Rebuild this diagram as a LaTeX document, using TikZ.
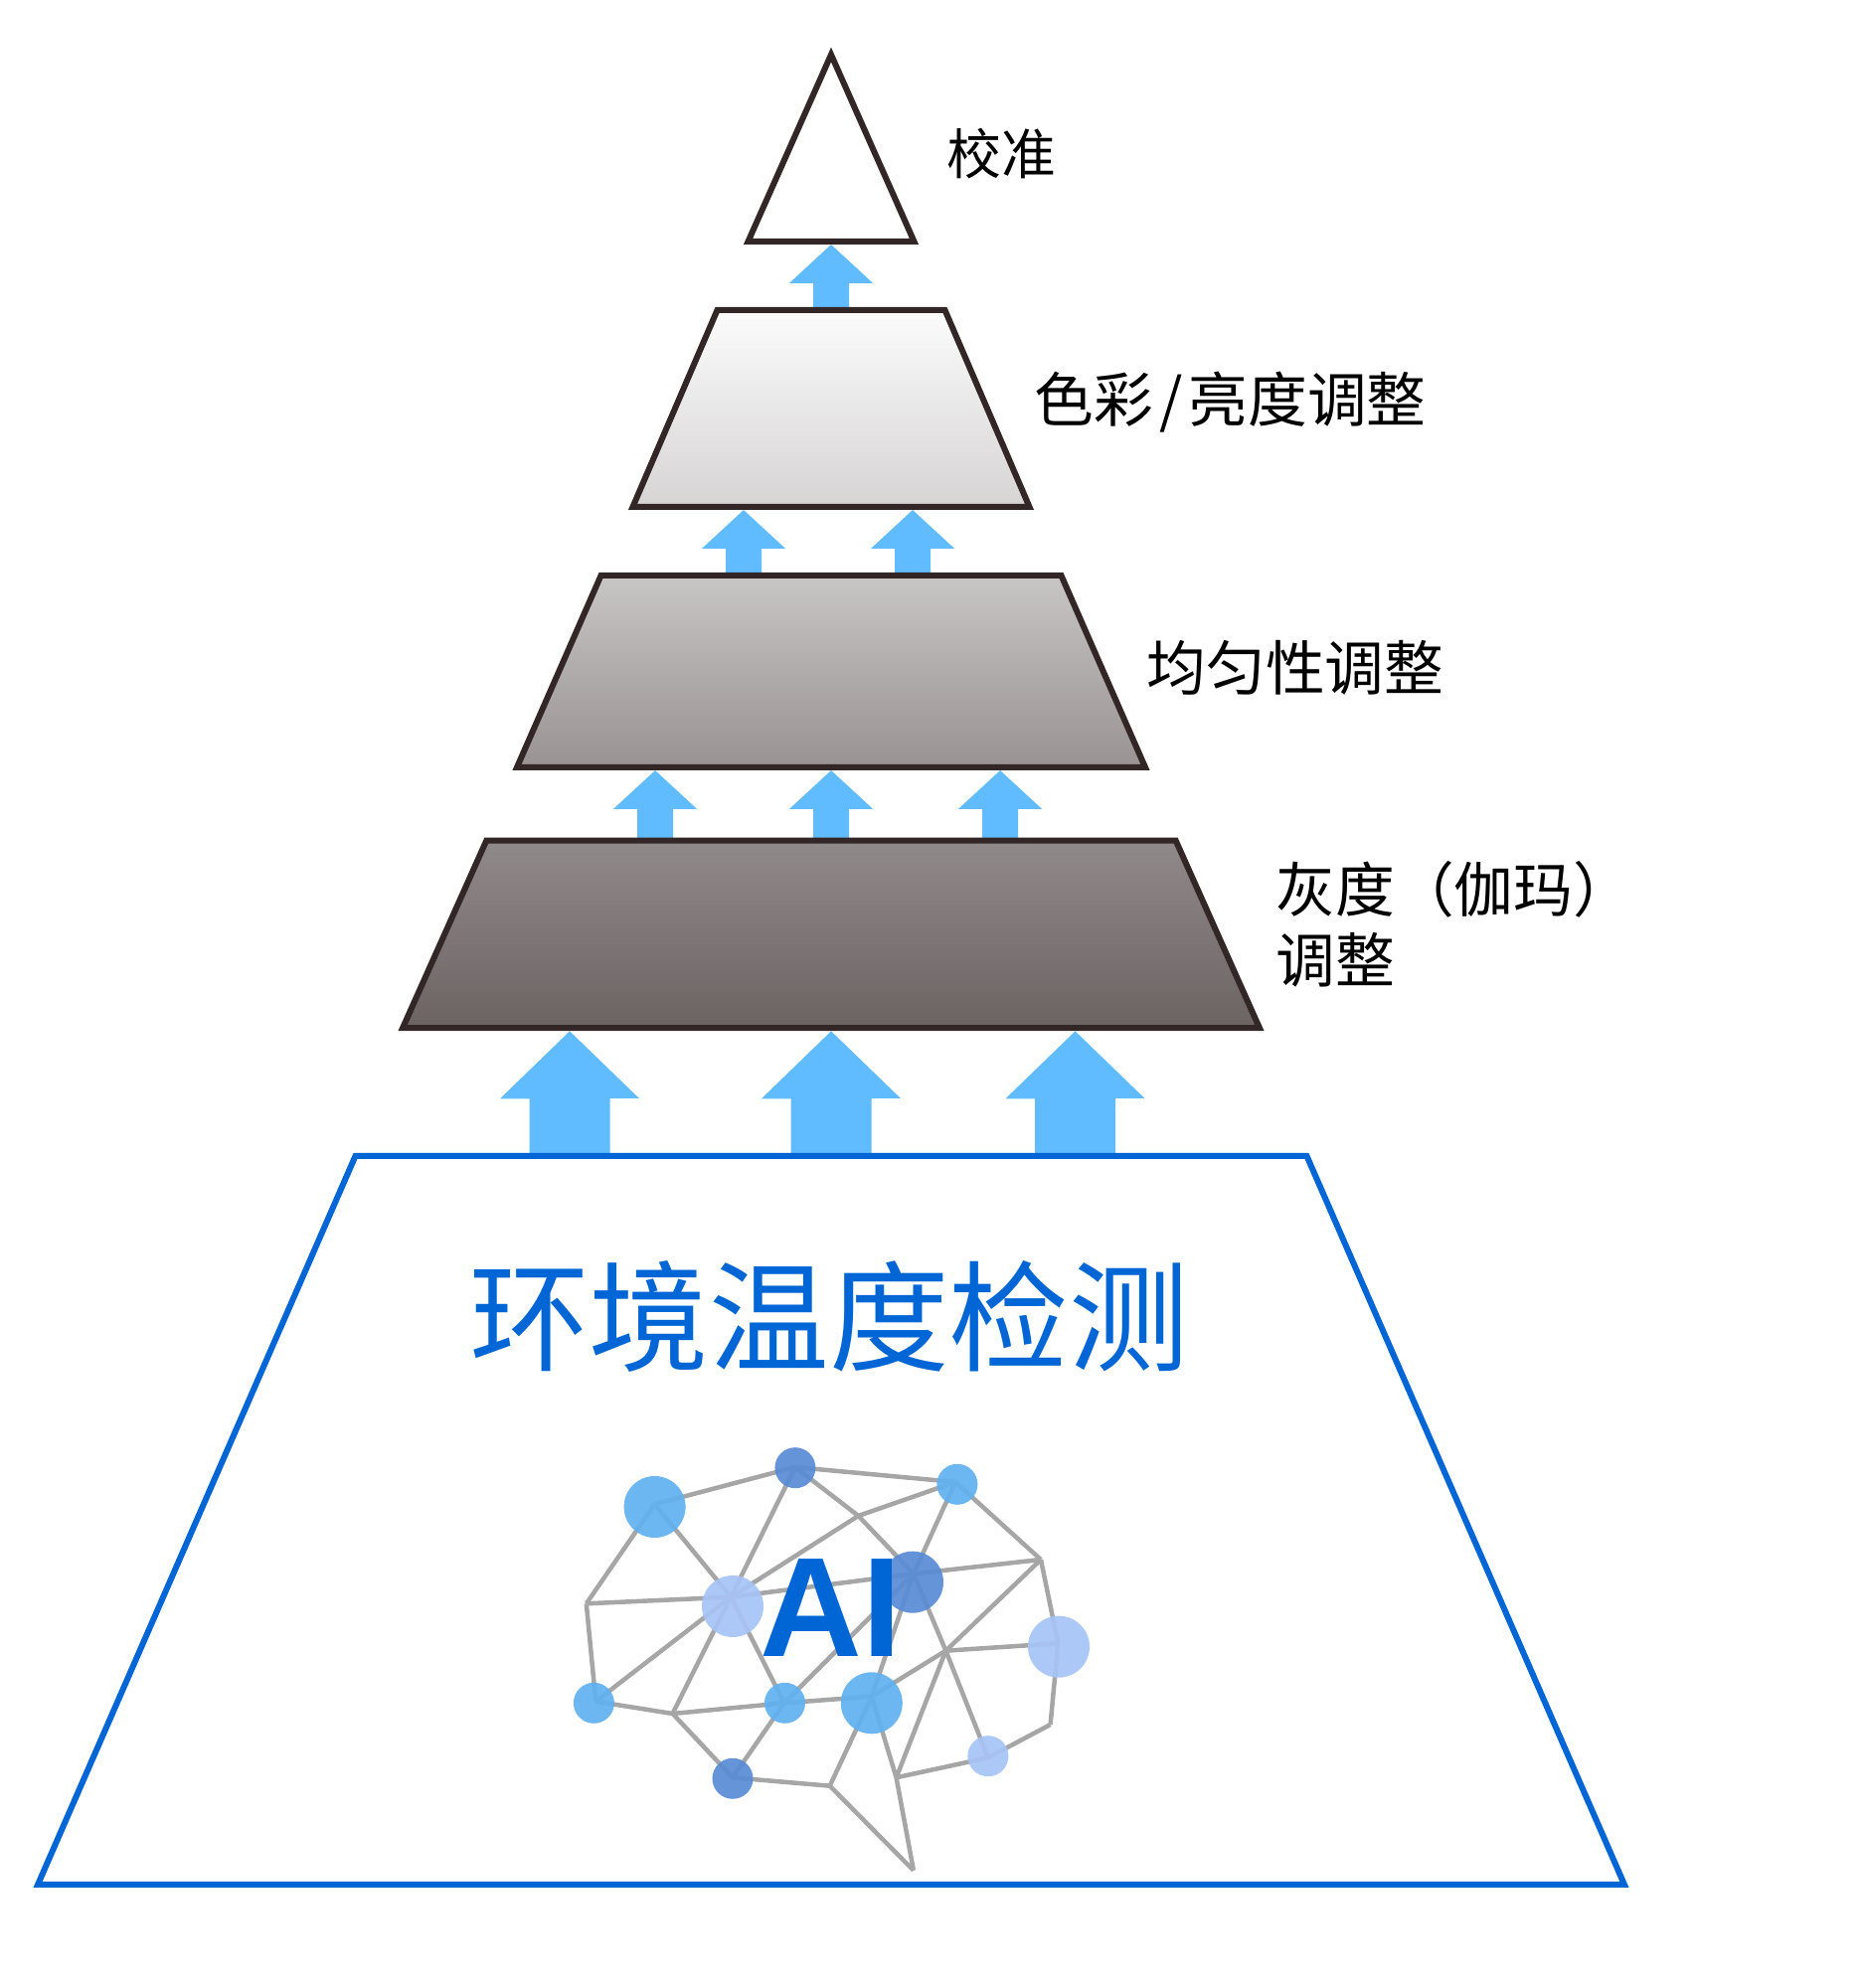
\documentclass[tikz,border=0pt]{standalone}
\usepackage{fontspec}
\newfontfamily\cjk{Noto Sans CJK SC}
\newfontfamily\aifont{Liberation Sans}
\usetikzlibrary{arrows.meta, shapes.geometric, backgrounds}

\definecolor{coreblue}{HTML}{0066D6}
\definecolor{arrowblue}{HTML}{60BCFF}
\definecolor{stepedge}{HTML}{332626}
\definecolor{netline}{HTML}{A6A6A6}
\definecolor{netsky}{rgb}{0.38, 0.69, 0.94}
\definecolor{netdeep}{rgb}{0.35, 0.55, 0.84}
\definecolor{netpale}{rgb}{0.65, 0.77, 0.96}

\newcommand{\stepbody}[2]{\phantom{\rule{#1}{#2}}}

\tikzset{
  trapbox/.style={trapezium, inner sep=0pt, outer sep=0pt, trapezium left angle=#1, trapezium right angle=#1},
  stepbox/.style={trapbox=#1, draw=stepedge, line width=0.06cm},
  steplabel/.style={anchor=west, inner sep=0pt, align=left, font=\cjk\fontsize{17}{20.3}\selectfont},
  bigarrow/.style={draw=arrowblue, line width=0.81cm, -{Triangle[length=0.68cm, width=1.36cm]}, shorten >=0.03cm},
  smallarrow/.style={draw=arrowblue, line width=0.36cm, -{Triangle[length=0.39cm, width=0.82cm]}, shorten >=0.03cm},
  netnode/.style={circle, inner sep=0pt, outer sep=0pt, fill opacity=0.93},
  netbig/.style={netnode, minimum size=0.62cm},
  netsmall/.style={netnode, minimum size=0.41cm},
}

\begin{document}
\begin{tikzpicture}
\useasboundingbox (0, 0) rectangle (18.74, 20);

\node (peak) at (8.36, 18.51) [stepbox=66.05] {\stepbody{0pt}{1.88cm}};
\node (light) at (8.36, 15.89) [stepbox=66.76, top color=white!97!gray, bottom color=white!80!stepedge] {\stepbody{2.29cm}{1.98cm}};
\node (mid) at (8.36, 13.245) [stepbox=66.35, top color=black!3!white!76!stepedge, bottom color=white!50!stepedge] {\stepbody{4.63cm}{1.93cm}};
\node (gray) at (8.36, 10.6) [stepbox=65.92, top color=white!46!stepedge, bottom color=white!28!stepedge] {\stepbody{6.935cm}{1.885cm}};
\node (core) at (8.36, 4.705) [trapbox=66.45, draw=coreblue, line width=0.06cm] {\stepbody{9.57cm}{7.33cm}};

\node (peaktext) at (9.52, 18.45) [steplabel, font=\cjk\fontsize{15.6}{20}\selectfont] {校准};
\node (lighttext) at (10.4, 15.95) [steplabel] {色彩\hspace{0.1em}/\hspace{0.1em}亮度调整};
\node (midtext) at (11.53, 13.28) [steplabel] {均匀性调整};
\node (graytext) at (12.83, 10.7) [steplabel] {灰度（伽玛）\\调整};
\node (coretext) at (8.34, 6.76) [inner sep=0pt, text=coreblue, font=\cjk\fontsize{34.3}{40}\selectfont] {环境温度检测};

\begin{scope}[on background layer]
\draw[smallarrow] (light.north) -- (peak.south);

\foreach \dx in {-0.88, 0.82}
  \draw[smallarrow] ([xshift=\dx cm]mid.north) -- ([xshift=\dx cm]light.south);

\foreach \dx in {-1.77, 0, 1.7}
  \draw[smallarrow] ([xshift=\dx cm]gray.north) -- ([xshift=\dx cm]mid.south);

\foreach \dx in {-2.63, 0, 2.455}
  \draw[bigarrow] ([xshift=\dx cm]core.north) -- ([xshift=\dx cm]gray.south);
\end{scope}

\node (n1) at (6.586, 4.84) [netbig, fill=netsky] {};
\node (n2) at (7.999, 5.233) [netsmall, fill=netdeep] {};
\node (n3) at (9.629, 5.067) [netsmall, fill=netsky] {};
\node (n4) at (9.18, 4.083) [netbig, fill=netdeep] {};
\node (n5) at (7.37, 3.84) [netbig, fill=netpale] {};
\node (n6) at (10.65, 3.433) [netbig, fill=netpale] {};
\node (n7) at (5.974, 2.867) [netsmall, fill=netsky] {};
\node (n8) at (7.895, 2.867) [netsmall, fill=netsky] {};
\node (n9) at (8.768, 2.867) [netbig, fill=netsky] {};
\node (n10) at (7.37, 2.107) [netsmall, fill=netdeep] {};
\node (n11) at (9.939, 2.333) [netsmall, fill=netpale] {};

% lines meet a little off the middle of the dots
\coordinate (h1) at (6.586, 4.867);
\coordinate (h2) at (7.999, 5.24);
\coordinate (h3) at (9.61, 5.09);
\coordinate (h4) at (9.189, 4.167);
\coordinate (h5) at (7.352, 3.933);
\coordinate (h6) at (10.643, 3.467);
\coordinate (h7) at (5.993, 2.883);
\coordinate (h8) at (7.888, 2.867);
\coordinate (h9) at (8.768, 2.933);
\coordinate (h10) at (7.37, 2.117);
\coordinate (h11) at (9.939, 2.317);

\coordinate (j1) at (5.898, 3.867);
\coordinate (j2) at (6.766, 2.76);
\coordinate (j3) at (8.634, 4.75);
\coordinate (j4) at (10.47, 4.31);
\coordinate (j5) at (9.514, 3.393);
\coordinate (j6) at (10.566, 2.65);
\coordinate (j7) at (8.347, 2.033);
\coordinate (j8) at (9.016, 2.117);
\coordinate (j9) at (9.189, 1.183);

\begin{scope}[on background layer]
\foreach \a/\b in {h1/h2, h2/h3, h1/j1, h1/h5, j1/h5, j1/h7, h7/h5, h2/h5, h2/j3, j3/h4, j3/h3, j3/h5,
  h3/h4, h3/j4, h4/j4, h5/h4, j4/h6, j4/j5, h8/h4, h4/h9, h4/j5, j5/h11, h9/j5, j5/h6, j5/j8,
  j8/h11, h11/j6, j6/h6, h5/h8, h5/j2, h7/j2, j2/h8, h8/h9, j2/h10, h8/h10, h10/j7, j7/h9,
  h9/j8, j8/j9, j7/j9}
  \draw[netline, line width=0.045cm] (\a.center) -- (\b.center);
\end{scope}

\node (aitext) at (8.36, 3.82) [inner sep=0pt, text=coreblue, font=\aifont\bfseries\fontsize{40.5}{44}\selectfont] {AI};
\end{tikzpicture}
\end{document}
